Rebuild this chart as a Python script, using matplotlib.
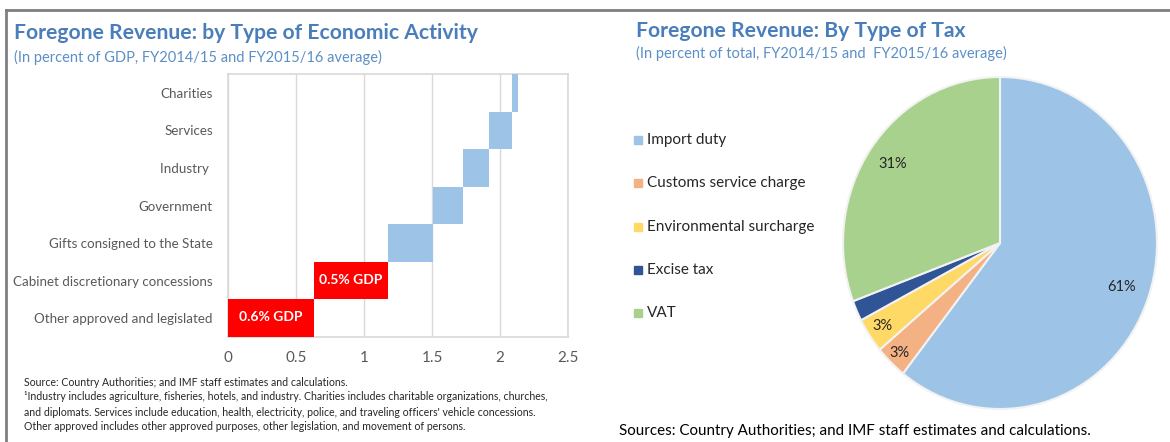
"""
Foregone revenue: waterfall by economic activity + pie by type of tax
"""

import numpy as np
import matplotlib.pyplot as plt
from matplotlib.lines import Line2D
from matplotlib.patches import Rectangle

plt.rcParams['font.family'] = ['Lato', 'DejaVu Sans']

# -----------------------
# Data
# -----------------------
activities = ["Other approved and legislated", "Cabinet discretionary concessions",
              "Gifts consigned to the State", "Government", "Industry ",
              "Services", "Charities"]
activity_values = [0.63, 0.545, 0.335, 0.22, 0.19, 0.165, 0.05]
activity_labels = ["0.6% GDP", "0.5% GDP", "", "", "", "", ""]
highlighted = [True, True, False, False, False, False, False]
x_ticks = [0, 0.5, 1, 1.5, 2, 2.5]

taxes = ["Import duty", "Customs service charge", "Environmental surcharge",
         "Excise tax", "VAT"]
tax_shares = [60.6, 3.3, 3.4, 2.0, 30.7]
tax_labels = ["61%", "3%", "3%", "", "31%"]
tax_colors = ["#9dc3e6", "#f4b183", "#ffd966", "#2f5597", "#a9d18e"]

TITLE_BLUE = "#4a7ebb"
SUB_BLUE = "#5b8fc7"
GRAY = "#595959"

fig = plt.figure(figsize=(11.7, 4.42), dpi=100)

# outer frame (top + left)
fig.add_artist(Line2D([6 / 1170, 1], [1 - 10 / 442] * 2, color="#7f7f7f", lw=2))
fig.add_artist(Line2D([6 / 1170] * 2, [0, 1 - 10 / 442], color="#7f7f7f", lw=2))

# -----------------------
# Left: waterfall
# -----------------------
ax = fig.add_axes([228 / 1170, 105 / 442, 340 / 1170, 263 / 442])
starts = np.concatenate([[0], np.cumsum(activity_values)[:-1]])
y = np.arange(len(activities))
colors = ["#ff0000" if h else "#9dc3e6" for h in highlighted]
ax.barh(y, activity_values, left=starts, height=1.0, color=colors, zorder=3)
for yi, s, v, lab in zip(y, starts, activity_values, activity_labels):
    if lab:
        ax.text(s + v / 2, yi + 0.02, lab, ha="center", va="center",
                color="white", fontweight="bold", fontsize=10, zorder=4)

ax.set_xlim(0, 2.5)
ax.set_ylim(-0.5, len(activities) - 0.5)
ax.set_xticks(x_ticks)
ax.set_xticklabels([f"{t:g}" for t in x_ticks], fontsize=11, color=GRAY)
ax.set_yticks(y)
ax.set_yticklabels(activities, fontsize=9.6, color=GRAY)
ax.tick_params(length=0, pad=11)
ax.tick_params(axis="x", pad=10)
ax.grid(axis="x", color="#d9d9d9", lw=1, zorder=0)
for sp in ax.spines.values():
    sp.set_color("#d9d9d9")
    sp.set_linewidth(1.2)

fig.text(14 / 1170, 1 - 33 / 442, "Foregone Revenue: by Type of Economic Activity",
         fontsize=15.2, fontweight="bold", color=TITLE_BLUE, va="center")
fig.text(14 / 1170, 1 - 57 / 442, "(In percent of GDP, FY2014/15 and FY2015/16 average)",
         fontsize=10.5, color=SUB_BLUE, va="center")

notes = [
    "Source: Country Authorities; and IMF staff estimates and calculations.",
    "\u00b9Industry includes agriculture, fisheries, hotels, and industry. Charities includes charitable organizations, churches,",
    "and diplomats. Services include education, health, electricity, police, and traveling officers' vehicle concessions.",
    "Other approved includes other approved purposes, other legislation, and movement of persons.",
]
for i, line in enumerate(notes):
    fig.text(24 / 1170, 1 - (382 + 15 * i) / 442, line, fontsize=7.6,
             color="#262626", va="center")

# -----------------------
# Right: pie
# -----------------------
pax = fig.add_axes([843 / 1170, 33 / 442, 314 / 1170, 332 / 442])
wedges, _ = pax.pie(tax_shares, colors=tax_colors, startangle=90, counterclock=False,
                    wedgeprops=dict(edgecolor="#f2f2f2", linewidth=1.5))
pax.set_aspect("auto")
pax.set_xlim(-1, 1)
pax.set_ylim(-1, 1)
for w in wedges:
    w.set_clip_on(False)

label_dist = [0.82, 0.92, 0.9, 0.9, 0.83]
for w, lab, d in zip(wedges, tax_labels, label_dist):
    if not lab:
        continue
    ang = np.deg2rad((w.theta1 + w.theta2) / 2)
    pax.text(d * np.cos(ang), d * np.sin(ang), lab, ha="center", va="center",
             fontsize=10.5, color="#262626")

# legend
for i, (name, c) in enumerate(zip(taxes, tax_colors)):
    yy = 1 - (140 + 43.3 * i) / 442
    fig.add_artist(Rectangle((634 / 1170, yy - 4 / 442), 8 / 1170, 8 / 442,
                             color=c, transform=fig.transFigure))
    fig.text(647 / 1170, yy, name, fontsize=11, color="#262626", va="center")

fig.text(636 / 1170, 1 - 31 / 442, "Foregone Revenue: By Type of Tax",
         fontsize=15.2, fontweight="bold", color=TITLE_BLUE, va="center")
fig.text(636 / 1170, 1 - 53 / 442, "(In percent of total, FY2014/15 and  FY2015/16 average)",
         fontsize=10.5, color=SUB_BLUE, va="center")
fig.text(619 / 1170, 1 - 431 / 442,
         "Sources: Country Authorities; and IMF staff estimates and calculations.",
         fontsize=10.9, color="#000000", va="center")

fig.savefig("out.png", dpi=100)
